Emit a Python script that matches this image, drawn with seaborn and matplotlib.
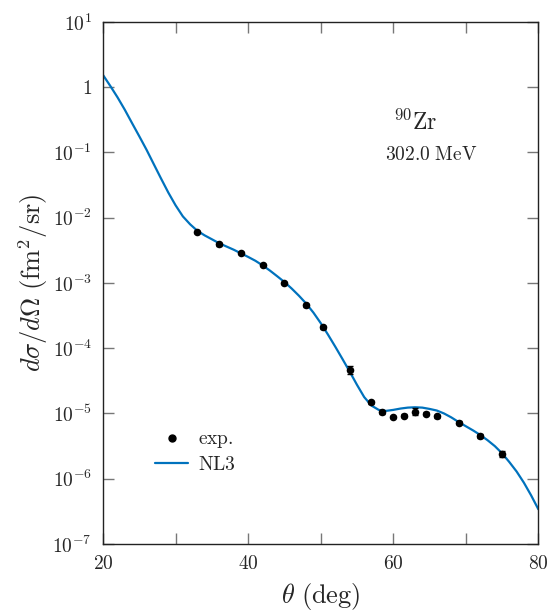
import matplotlib
matplotlib.use("Agg")
import matplotlib.pyplot as plt
import seaborn as sns
import pandas as pd
from matplotlib.lines import Line2D

# NL3 calculation
theta_nl3 = [20, 21, 22, 23, 24, 25, 26, 27, 28, 29, 30, 31, 32, 33, 34, 35, 36, 37, 38, 39,
             40, 41, 42, 43, 44, 45, 46, 47, 48, 49, 50, 51, 52, 53, 54, 55, 56, 57, 58,
             59, 60, 61, 62, 63, 64, 65, 66, 67, 68, 69, 70, 71, 72, 73, 74, 75, 76, 77,
             78, 79, 80]
xs_nl3 = [1.54, 1.047, 0.700, 0.452, 0.282, 0.177, 0.110, 0.0661, 0.0398, 0.0243,
          0.0155, 0.0105, 7.94e-3, 6.31e-3, 5.37e-3, 4.68e-3, 4.07e-3, 3.63e-3, 3.24e-3,
          2.85e-3, 2.51e-3, 2.19e-3, 1.86e-3, 1.55e-3, 1.27e-3, 1.035e-3, 8.22e-4,
          6.38e-4, 4.84e-4, 3.51e-4, 2.43e-4, 1.62e-4, 1.06e-4, 6.84e-5, 4.37e-5,
          2.75e-5, 1.78e-5, 1.32e-5, 1.135e-5, 1.096e-5, 1.135e-5, 1.19e-5, 1.23e-5,
          1.245e-5, 1.23e-5, 1.175e-5, 1.11e-5, 1.00e-5, 8.71e-6, 7.41e-6, 6.38e-6,
          5.50e-6, 4.68e-6, 3.89e-6, 3.16e-6, 2.45e-6, 1.80e-6, 1.29e-6, 8.71e-7,
          5.56e-7, 3.40e-7]

# experimental data
theta_exp = [33, 36, 39, 42, 45, 48, 50.3, 54, 57, 58.5, 60, 61.5, 63, 64.5, 66, 69, 72, 75]
xs_exp = [6.1e-3, 3.9e-3, 2.9e-3, 1.87e-3, 1.01e-3, 4.55e-4, 2.09e-4, 4.65e-5, 1.49e-5,
          1.04e-5, 8.9e-6, 9.25e-6, 1.07e-5, 9.9e-6, 9.05e-6, 7.2e-6, 4.5e-6, 2.4e-6]
err_exp = [2.0e-4, 2.5e-4, 1.2e-4, 8e-5, 4e-5, 2.5e-5, 1.2e-5, 6e-6, 8e-7,
           5e-7, 4e-7, 5e-7, 1.3e-6, 5e-7, 5e-7, 4e-7, 3e-7, 2.5e-7]

yticks = [1e-7, 1e-6, 1e-5, 1e-4, 1e-3, 1e-2, 1e-1, 1, 10]
ytick_labels = [r'$10^{-7}$', r'$10^{-6}$', r'$10^{-5}$', r'$10^{-4}$', r'$10^{-3}$',
                r'$10^{-2}$', r'$10^{-1}$', r'$1$', r'$10^{1}$']
xticks = [20, 30, 40, 50, 60, 70, 80]
xtick_labels = [r'$20$', '', r'$40$', '', r'$60$', '', r'$80$']

sns.set_style("ticks")
plt.rcParams['mathtext.fontset'] = 'cm'
plt.rcParams['font.family'] = ['DejaVu Serif']

df_line = pd.DataFrame({"theta": theta_nl3, "xs": xs_nl3})
df_exp = pd.DataFrame({"theta": theta_exp, "xs": xs_exp, "err": err_exp})

fig = plt.figure(figsize=(5.56, 6.13), dpi=100)
ax = fig.add_axes([0.1853, 0.1126, 0.7830, 0.8515])

blue = '#0072BD'
sns.lineplot(data=df_line, x="theta", y="xs", ax=ax, color=blue, lw=1.6, sort=False)
ax.errorbar(df_exp["theta"], df_exp["xs"], yerr=df_exp["err"], fmt='none',
            ecolor='black', elinewidth=0.8, capsize=2, zorder=3)
sns.scatterplot(data=df_exp, x="theta", y="xs", ax=ax, color='black', s=30,
                edgecolor='black', linewidth=0, zorder=4)

ax.set_yscale('log')
ax.set_xlim(20, 80)
ax.set_ylim(1e-7, 10)
ax.set_yticks(yticks)
ax.set_yticklabels(ytick_labels)
ax.yaxis.set_minor_locator(matplotlib.ticker.NullLocator())
ax.set_xticks(xticks)
ax.set_xticklabels(xtick_labels)

ax.tick_params(axis='both', which='major', direction='in', length=8, width=1,
               color='#777777', labelsize=14, top=True, right=True, pad=8)
for s in ax.spines.values():
    s.set_color('#222222')
    s.set_linewidth(1.0)

ax.set_xlabel(r'$\theta\ (\mathrm{deg})$', fontsize=19, labelpad=6)
ax.set_ylabel(r'$d\sigma/d\mathit{\Omega}\ (\mathrm{fm}^2/\mathrm{sr})$', fontsize=19,
              labelpad=2)

ax.text(0.717, 0.808, r'$^{90}\mathrm{Zr}$', transform=ax.transAxes, fontsize=17,
        ha='center', va='center')
ax.text(0.754, 0.745, r'$\mathrm{302.0\ MeV}$', transform=ax.transAxes, fontsize=14,
        ha='center', va='center')

handles = [Line2D([], [], color='black', marker='o', ls='none', markersize=5),
           Line2D([], [], color=blue, lw=1.6)]
ax.legend(handles, [r'$\mathrm{exp.}$', r'$\mathrm{NL3}$'], loc='lower left',
          bbox_to_anchor=(0.08, 0.10), frameon=False, fontsize=14,
          handlelength=1.7, handletextpad=0.5, labelspacing=0.3)

fig.savefig('out.png', dpi=100)
